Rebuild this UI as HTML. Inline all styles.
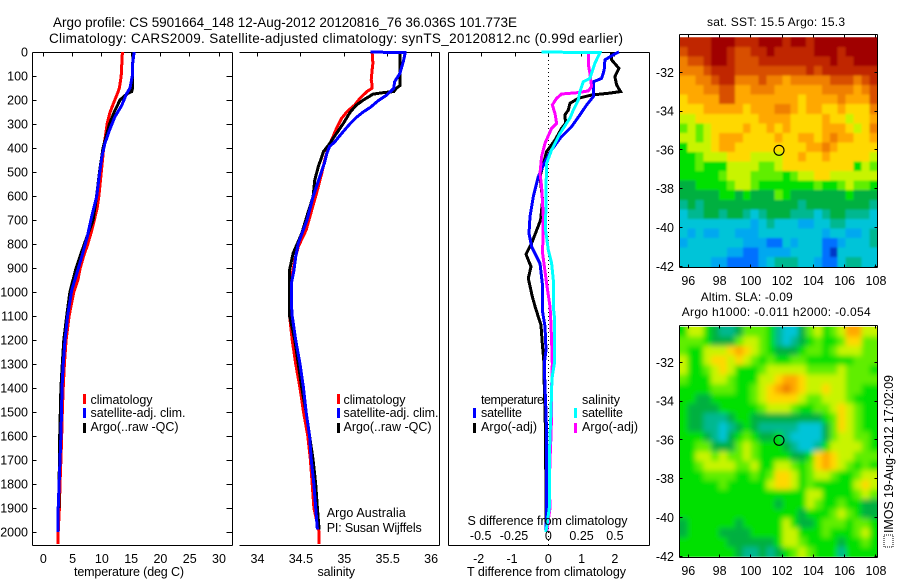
<!DOCTYPE html>
<html lang="en">
<head>
<meta charset="utf-8">
<title>Argo profile CS 5901664_148</title>
<style>
html,body{margin:0;padding:0;background:#fff;width:900px;height:580px;overflow:hidden}
svg{display:block;font-family:"Liberation Sans",sans-serif;font-size:12.5px;fill:#000}
.line{fill:none;stroke-width:3;stroke-linejoin:miter;shape-rendering:crispEdges}
.ax{stroke:#000;stroke-width:1;fill:none;shape-rendering:crispEdges}
</style>
</head>
<body>
<svg id="chart" width="900" height="580" viewBox="0 0 900 580" xmlns="http://www.w3.org/2000/svg">
  <defs>
    <filter id="blur-sst" filterUnits="userSpaceOnUse" x="640" y="0" width="260" height="300"><feGaussianBlur stdDeviation="1.1"/></filter>
    <filter id="blur-sla" filterUnits="userSpaceOnUse" x="640" y="290" width="260" height="290"><feGaussianBlur stdDeviation="2.6"/></filter>
    <clipPath id="clip-sst"><rect x="679" y="37.3" width="198.5" height="229.7"/></clipPath>
    <clipPath id="clip-sla"><rect x="679" y="326.7" width="198.5" height="230"/></clipPath>
  </defs>
  <text x="53" y="27" font-size="13.5" textLength="464" lengthAdjust="spacing">Argo profile: CS 5901664_148 12-Aug-2012 20120816_76 36.036S 101.773E</text>
  <text x="49" y="43" font-size="13.5" textLength="574" lengthAdjust="spacing">Climatology: CARS2009. Satellite-adjusted climatology: synTS_20120812.nc (0.99d earlier)</text>

  <g clip-path="url(#clip-sst)"><g id="map-sst" filter="url(#blur-sst)"></g></g>
  <g clip-path="url(#clip-sla)"><g id="map-sla" filter="url(#blur-sla)"></g></g>
  <g id="axes"></g>
  <g id="series"></g>
  <g id="labels"></g>

  <text x="74" y="576" textLength="110" lengthAdjust="spacing">temperature (deg C)</text>
  <text x="317.5" y="576" textLength="37.5" lengthAdjust="spacing">salinity</text>
  <text x="467" y="576" textLength="159" lengthAdjust="spacing">T difference from climatology</text>
  <text x="467.5" y="525" textLength="160" lengthAdjust="spacing">S difference from climatology</text>

  <g>
    <rect x="83" y="394" width="3" height="10" fill="#ff0000"/>
    <rect x="83" y="408" width="3" height="10" fill="#0000ff"/>
    <rect x="83" y="423" width="3" height="10" fill="#000000"/>
    <text x="90.5" y="404" textLength="62" lengthAdjust="spacing">climatology</text>
    <text x="90.5" y="417" textLength="95" lengthAdjust="spacing">satellite-adj. clim.</text>
    <text x="90.5" y="431" textLength="88" lengthAdjust="spacing">Argo(..raw -QC)</text>
  </g>
  <g>
    <rect x="337" y="394" width="3" height="10" fill="#ff0000"/>
    <rect x="337" y="408" width="3" height="10" fill="#0000ff"/>
    <rect x="337" y="423" width="3" height="10" fill="#000000"/>
    <text x="343.5" y="404" textLength="62" lengthAdjust="spacing">climatology</text>
    <text x="343.5" y="417" textLength="95" lengthAdjust="spacing">satellite-adj. clim.</text>
    <text x="343.5" y="431" textLength="88" lengthAdjust="spacing">Argo(..raw -QC)</text>
    <text x="326.7" y="517" textLength="79" lengthAdjust="spacing">Argo Australia</text>
    <text x="326.7" y="532" textLength="95" lengthAdjust="spacing">PI: Susan Wijffels</text>
  </g>
  <g>
    <text x="481" y="404" textLength="63" lengthAdjust="spacing">temperature</text>
    <text x="582" y="404" textLength="38" lengthAdjust="spacing">salinity</text>
    <rect x="473" y="408" width="3" height="10" fill="#0000ff"/>
    <rect x="473" y="423" width="3" height="10" fill="#000000"/>
    <rect x="574" y="408" width="3" height="10" fill="#00ffff"/>
    <rect x="574" y="423" width="3" height="10" fill="#ff00ff"/>
    <text x="481" y="417" textLength="41" lengthAdjust="spacing">satellite</text>
    <text x="481" y="431" textLength="56" lengthAdjust="spacing">Argo(-adj)</text>
    <text x="582" y="417" textLength="41" lengthAdjust="spacing">satellite</text>
    <text x="582" y="431" textLength="56" lengthAdjust="spacing">Argo(-adj)</text>
  </g>

  <text x="707" y="26" font-size="12" textLength="138" lengthAdjust="spacing">sat. SST: 15.5 Argo: 15.3</text>
  <text x="700.7" y="301" font-size="12" textLength="92" lengthAdjust="spacing">Altim. SLA: -0.09</text>
  <text x="681.7" y="316" font-size="12" textLength="189" lengthAdjust="spacing">Argo h1000: -0.011 h2000: -0.054</text>

  <rect x="884" y="535" width="9" height="12" fill="none" stroke="#000" stroke-width="1" stroke-dasharray="1 1" shape-rendering="crispEdges"/>
  <text transform="translate(893,533) rotate(-90)" textLength="158" lengthAdjust="spacing">IMOS 19-Aug-2012 17:02:09</text>
</svg>

<script>
// ---------- chart data ----------
const depthTicks = [0,100,200,300,400,500,600,700,800,900,1000,1100,1200,1300,1400,1500,1600,1700,1800,1900,2000];
const tempTicks = [0,5,10,15,20,25,30];
const salTicks = [34,34.5,35,35.5,36];
const salTickLabels = ['34','34.5','35','35.5','36'];
const tdiffTicks = [-2,-1,0,1,2];
const sdiffTicks = [-0.5,-0.25,0,0.25,0.5];
const sdiffTickLabels = ['-0.5','-0.25','0','0.25','0.5'];
const lonTicks = [96,98,100,102,104,106,108];
const latTicks = [-32,-34,-36,-38,-40,-42];

const tempClimDepth = [0,50,100,150,170,200,250,300,350,400,450,500,550,600,650,700,750,800,850,900,950,1000,1100,1200,1300,1400,1500,1600,1700,1800,1900,2000,2050];
const tempClim = [13.5,13.4,13.3,13,12.7,12.2,11.4,10.9,10.6,10.3,10.1,9.9,9.7,9.5,9.2,8.7,8.2,7.6,6.9,6.3,5.9,5.2,4.4,3.9,3.6,3.4,3.25,3.15,3,2.85,2.75,2.55,2.55];
const tempSatDepth = [0,50,100,150,174,222,271,319,382,437,507,604,687,771,854,924,993,1100,1200,1300,1400,1500,1600,1700,1800,1900,2000];
const tempSat = [15.5,15.25,15.2,14.8,14.2,13.4,12.2,11.4,10.5,10,9.6,9.1,8.25,7.5,6.55,5.7,4.85,4.15,3.7,3.4,3.2,3.1,3,2.85,2.7,2.55,2.55];
const tempArgoDepth = [0,50,100,150,165,172,180,200,250,300,400,500,600,700,800,900,1000,1100,1200,1300,1400,1500,1600,1700,1800,1900];
const tempArgo = [15.4,15.25,15.25,15.25,15.1,14.5,14,13.1,12.1,11.3,10.2,9.6,9.1,8.5,7,5.6,4.55,4,3.5,3.25,3,2.9,2.8,2.75,2.7,2.7];

const salClimDepth = [0,47,75,117,137,151,165,193,221,249,276,318,353,394,443,506,589,665,742,811,867,908,964,1061,1100,1200,1300,1400,1500,1600,1700,1800,1900,2000,2050];
const salClim = [35.32,35.33,35.32,35.31,35.32,35.32,35.26,35.18,35.12,35.03,34.97,34.91,34.87,34.82,34.78,34.74,34.68,34.62,34.56,34.47,34.43,34.41,34.37,34.37,34.37,34.4,34.44,34.49,34.53,34.58,34.61,34.63,34.65,34.71,34.71];
const salSatDepth = [0,3,5,40,89,124,151,179,203,231,249,272,297,339,374,394,422,464,506,603,700,797,853,908,964,1050,1100,1200,1300,1400,1500,1600,1700,1800,1900,1990];
const salSat = [35.3,35.7,35.7,35.68,35.64,35.58,35.57,35.49,35.39,35.3,35.22,35.14,35.07,34.97,34.89,34.83,34.8,34.77,34.73,34.64,34.57,34.47,34.44,34.42,34.39,34.39,34.4,34.44,34.49,34.53,34.56,34.6,34.62,34.65,34.67,34.69];
const salArgoDepth = [0,50,100,140,151,165,169,176,200,221,249,297,339,387,415,478,533,603,672,755,839,908,992,1050,1100,1200,1300,1400,1500,1600,1700,1800,1900,1990];
const salArgo = [35.64,35.64,35.64,35.64,35.6,35.57,35.45,35.33,35.22,35.14,35.07,34.99,34.91,34.82,34.76,34.7,34.66,34.64,34.58,34.51,34.41,34.37,34.37,34.37,34.37,34.43,34.47,34.51,34.56,34.6,34.64,34.67,34.69,34.71];

const dtSatDepth = [0,8,33,75,110,124,186,221,262,311,360,408,457,519,603,686,756,811,881,964,1075,1144,1242,1297,1400,1500,1600,1700,1800,1900,2000];
const dtSat = [2.12,2,1.7,1.68,1.6,1.35,1.35,1.15,0.95,0.7,0.35,0.1,-0.1,-0.3,-0.45,-0.55,-0.58,-0.5,-0.25,-0.18,-0.18,-0.1,-0.07,-0.12,-0.1,-0.07,-0.05,-0.05,-0.05,-0.05,-0.07];
const dtArgoDepth = [0,33,68,103,137,165,172,179,193,214,242,262,297,318,367,415,519,617,700,797,843,894,943,1019,1068,1138,1214,1297,1400,1500,1600,1700,1800,1900,1990];
const dtArgo = [1.9,1.9,2.12,2,2.05,2.17,1.8,1.3,0.9,0.65,0.6,0.5,0.52,0.4,0.2,-0.05,-0.25,-0.17,-0.23,-0.5,-0.67,-0.52,-0.6,-0.48,-0.38,-0.22,-0.18,-0.13,-0.12,-0.1,-0.08,-0.08,-0.07,-0.07,-0.07];
const dsSatDepth = [0,3,47,89,110,124,165,200,242,276,339,408,464,575,742,825,880,950,1061,1100,1200,1250,1300,1350,1400,1500,1600,1700,1800,1900,2000];
const dsSat = [-0.05,0.3875,0.35,0.325,0.3125,0.2625,0.2375,0.225,0.1875,0.1625,0.0875,0.025,-0.0125,-0.0175,-0.02,0,0.025,0.0375,0.0375,0.045,0.045,0.045,0.045,0.03,0.025,0.02,0.0125,0.0075,0.0075,0.0075,-0.0175];
const dsArgoDepth = [0,50,89,144,162,169,175,193,221,256,297,318,380,436,506,561,686,839,964,1061,1100,1200,1300,1400,1500,1600,1700,1800,1900,2000];
const dsArgo = [0.3,0.3,0.3125,0.325,0.3,0.225,0.1,0.0625,0.03,0.05,0.0625,0.025,-0.025,-0.05,-0.0625,-0.05,-0.0375,-0.0425,-0.0125,0.0125,0.0175,0.025,0.03,0.025,0.025,0.02,0.0125,0.0075,0.0125,-0.0125];

const sstLevels = [
[13,13,13,13,14,14,14,13,13,13,14,14,14,13,14,14,13,14,14,14,14,14,14,14,14],
[12,13,13,13,14,14,13,12,12,13,13,14,13,13,13,13,13,14,14,14,13,14,14,14,14],
[11,12,12,13,14,14,13,12,12,12,13,13,13,13,13,13,13,13,13,14,13,13,14,14,14],
[11,11,11,12,13,13,13,12,12,12,12,12,12,12,12,12,13,12,13,13,13,13,13,13,13],
[10,10,11,11,12,13,13,11,11,11,12,11,11,10,11,11,11,11,11,12,12,12,11,12,13],
[10,10,10,11,11,12,12,10,10,11,11,11,10,10,10,10,10,10,11,11,11,11,10,11,12],
[9,10,10,10,10,12,12,10,10,10,10,10,10,10,10,9,10,10,10,10,11,10,10,10,12],
[9,9,9,10,10,10,10,10,9,10,10,10,11,11,10,9,10,10,9,9,10,9,9,9,11],
[8,8,9,9,9,9,9,9,9,9,10,10,10,10,9,9,9,9,10,9,9,8,9,9,10],
[7,8,7,8,9,9,9,9,10,9,9,10,9,10,9,9,9,9,10,10,10,9,8,9,11],
[8,8,7,8,9,10,10,10,9,9,9,9,10,9,9,10,10,9,10,11,10,10,9,9,10],
[6,8,8,8,9,10,10,9,9,9,9,9,9,9,9,9,10,10,11,10,9,9,9,9,9],
[6,6,7,8,8,8,9,9,9,8,8,8,8,9,9,10,9,9,10,9,9,9,9,9,8],
[6,6,7,6,6,6,8,8,8,8,7,7,8,9,9,9,9,9,9,9,9,9,6,8,7],
[6,6,6,6,6,7,8,8,8,7,7,7,7,6,7,8,8,9,9,8,8,8,8,8,8],
[5,5,6,6,6,6,7,8,8,7,6,6,6,6,6,6,6,7,6,6,7,8,7,7,6],
[5,5,5,5,5,6,6,5,6,5,5,5,7,6,5,5,5,5,5,5,5,6,5,5,5],
[4,5,4,5,5,5,5,5,5,5,5,5,5,5,5,4,5,5,5,5,5,5,5,5,4],
[3,4,4,5,5,4,5,5,4,3,4,5,5,5,4,4,4,3,4,5,5,4,4,4,3],
[3,3,3,3,3,3,3,3,3,2,3,4,3,3,3,2,2,3,3,4,4,3,3,3,3],
[3,2,3,2,2,3,3,2,2,2,3,3,3,3,3,3,3,3,2,3,3,2,2,3,4],
[2,3,3,3,3,3,3,3,2,2,2,1,1,3,2,3,3,3,1,1,2,3,3,3,4],
[3,3,3,3,3,3,2,2,1,1,2,2,2,2,3,3,3,3,1,0,3,3,3,3,3],
[3,3,3,3,2,2,1,1,1,1,2,3,4,4,4,3,3,2,1,1,3,4,4,3,3]
];
const slaLevels = [
[6,8,8,6,5,4,4,5,7,7,7,6,4,3,3,5,7,8,6,7,8,10,10,8,8],
[7,7,7,6,5,5,5,7,8,8,7,6,4,3,4,5,6,7,6,6,7,9,9,7,7],
[7,6,6,8,8,8,9,10,9,8,7,6,5,5,5,6,7,7,6,7,8,8,8,7,7],
[8,6,6,8,9,9,8,9,8,7,6,7,6,6,7,7,6,6,6,6,6,6,7,7,7],
[8,6,6,7,8,9,8,6,6,6,7,8,8,8,8,8,7,7,7,7,8,7,7,7,6],
[7,6,6,6,8,8,7,6,6,6,8,8,9,10,10,9,8,8,8,8,8,7,7,7,7],
[6,6,6,6,7,7,7,6,6,7,8,9,10,11,10,9,8,8,9,8,8,7,7,6,6],
[6,6,5,5,6,6,6,6,6,7,8,9,9,9,9,8,7,7,8,8,8,7,6,6,6],
[6,5,5,5,5,6,6,6,6,6,7,8,8,8,7,6,6,7,7,8,9,8,7,6,6],
[6,5,5,4,4,4,5,6,6,5,5,5,5,5,5,5,5,5,6,7,9,8,7,6,6],
[6,5,5,4,4,3,4,5,6,5,4,4,4,4,4,3,3,3,5,7,9,8,7,6,6],
[6,6,6,5,4,3,5,6,7,6,5,5,6,4,3,3,3,3,5,7,8,8,7,7,6],
[6,6,7,7,5,5,5,7,8,7,6,6,6,5,4,3,3,4,6,8,8,8,8,7,6],
[6,6,8,8,7,8,7,7,8,7,6,6,6,6,5,5,6,9,10,9,8,8,7,7,7],
[6,6,7,8,8,8,8,7,7,8,6,6,8,8,7,6,7,9,10,9,8,7,6,7,6],
[6,6,6,7,7,7,7,6,6,7,6,7,9,9,8,6,7,8,8,7,6,6,7,8,8],
[6,6,6,6,6,7,6,6,6,6,6,8,9,9,8,6,7,6,6,6,6,6,8,9,8],
[6,6,6,6,6,6,6,6,6,6,6,6,6,6,6,6,8,8,6,6,6,6,7,8,7],
[6,6,6,6,6,6,6,6,6,6,6,6,5,6,6,6,8,7,6,6,7,6,6,5,5],
[6,6,6,6,6,6,6,6,6,6,6,6,6,6,6,5,6,6,6,7,8,7,6,5,5],
[5,6,6,6,6,6,6,5,6,6,6,6,6,8,6,5,5,6,7,7,7,6,7,7,6],
[5,6,6,6,6,5,5,5,5,6,6,6,6,8,8,6,6,6,7,6,6,6,7,8,6],
[6,6,6,6,6,6,5,5,5,5,5,5,6,8,8,7,6,6,6,6,5,6,6,7,6],
[6,6,6,6,6,6,6,5,4,4,5,4,5,6,7,8,7,6,6,6,4,6,6,6,6]
];
const levelColors = ['#0038c8','#0070ff','#00a8f0','#00c4d8','#00b890','#00b040','#00e000','#60ee00','#c8f400','#ffd800','#ffa800','#f08000','#d85000','#c02800','#a00000'];

// ---------- helpers ----------
const NS = 'http://www.w3.org/2000/svg';
const axesLayer = document.getElementById('axes');
const seriesLayer = document.getElementById('series');
const labelLayer = document.getElementById('labels');

const yDepth = d => 52 + 0.24 * d;
const xTemp = v => 43.3 + 5.857 * v;
const xSal = v => 344.3 + 86.8 * (v - 35);
const xTdiff = v => 548.3 + 33.3 * v;
const xSdiff = v => 548.3 + 133.2 * v;
const xLon = v => 688.3 + 15.64 * (v - 96);
const ySst = v => 72.3 + 19.4 * (-32 - v);
const ySla = v => 362.3 + 19.4 * (-32 - v);

function seg(x1, y1, x2, y2) {
  const l = document.createElementNS(NS, 'line');
  l.setAttribute('class', 'ax');
  l.setAttribute('x1', Math.floor(x1) + 0.5);
  l.setAttribute('y1', Math.floor(y1) + 0.5);
  l.setAttribute('x2', Math.floor(x2) + 0.5);
  l.setAttribute('y2', Math.floor(y2) + 0.5);
  return l;
}
function addSpine(x1, y1, x2, y2) {
  const l = seg(x1, y1, x2, y2);
  
  
  axesLayer.appendChild(l);
}
function addTick(x1, y1, x2, y2) {
  const l = seg(x1, y1, x2, y2);
  
  
  axesLayer.appendChild(l);
}
function addLabel(x, y, str, anchor) {
  const t = document.createElementNS(NS, 'text');
  
  
  t.setAttribute('x', x);
  t.setAttribute('y', y);
  t.setAttribute('text-anchor', anchor);
  t.textContent = str;
  labelLayer.appendChild(t);
}
function addProfile(depths, values, xFn, color, name) {
  const p = document.createElementNS(NS, 'polyline');
  
  
  p.setAttribute('class', 'line');
  p.setAttribute('stroke', color);
  p.setAttribute('points', values.map((v, i) => xFn(v).toFixed(1) + ',' + yDepth(depths[i]).toFixed(1)).join(' '));
  seriesLayer.appendChild(p);
}
function addMap(layerId, levels, yFn, top, name) {
  const layer = document.getElementById(layerId);
  const lonW = 95.44, lonE = 108.08, latS = -42.02;
  const latN = -32 + (yFn(-32) - top) / 19.4;
  const rows = levels.length;
  levels.forEach((row, r) => {
    const cols = row.length;
    row.forEach((v, c) => {
      // outermost cells run past the clip so the blur does not fade at the frame
      const x0 = xLon(lonW + (lonE - lonW) * c / cols) - (c === 0 ? 14 : 0);
      const x1 = xLon(lonW + (lonE - lonW) * (c + 1) / cols) + (c === cols - 1 ? 14 : 0);
      const y0 = yFn(latN + (latS - latN) * r / rows) - (r === 0 ? 14 : 0);
      const y1 = yFn(latN + (latS - latN) * (r + 1) / rows) + (r === rows - 1 ? 14 : 0);
      const cell = document.createElementNS(NS, 'rect');
      
      
      cell.setAttribute('x', x0.toFixed(2));
      cell.setAttribute('y', y0.toFixed(2));
      cell.setAttribute('width', (x1 - x0 + 0.3).toFixed(2));
      cell.setAttribute('height', (y1 - y0 + 0.3).toFixed(2));
      cell.setAttribute('fill', levelColors[Math.max(0, Math.min(levelColors.length - 1, v))]);
      cell.setAttribute('shape-rendering', 'crispEdges');
      layer.appendChild(cell);
    });
  });
}
function addMarker(lon, lat, yFn) {
  const c = document.createElementNS(NS, 'circle');
  
  
  c.setAttribute('cx', xLon(lon));
  c.setAttribute('cy', yFn(lat));
  c.setAttribute('r', 5);
  c.setAttribute('fill', 'none');
  c.setAttribute('stroke', '#000');
  c.setAttribute('stroke-width', 1.1);
  seriesLayer.appendChild(c);
}

// ---------- maps ----------
addMap('map-sst', sstLevels, ySst, 37.3, 'sst-cell');
addMap('map-sla', slaLevels, ySla, 326.7, 'sla-cell');

// ---------- profile panels: frames ----------
addSpine(32, 52, 232, 52); addSpine(32, 545, 232, 545); addSpine(32, 52, 32, 545); addSpine(232, 52, 232, 545);
addSpine(239, 52, 439, 52); addSpine(239, 545, 439, 545); addSpine(439, 52, 439, 545);
addSpine(448, 52, 649, 52); addSpine(448, 545, 649, 545); addSpine(448, 52, 448, 545); addSpine(649, 52, 649, 545);

// ---------- profile panels: ticks and labels ----------
depthTicks.forEach(d => {
  const y = yDepth(d);
  addTick(32, y, 36, y);
  addTick(226, y, 232, y);
  addLabel(28, y + 4.5, String(d), 'end');
});
tempTicks.forEach(v => {
  const x = xTemp(v);
  addTick(x, 52, x, 56);
  addLabel(x, 563, String(v), 'middle');
});
salTicks.forEach((v, i) => {
  const x = xSal(v);
  addTick(x, 52, x, 56);
  addLabel(x, 563, salTickLabels[i], 'middle');
});
tdiffTicks.forEach(v => {
  const x = xTdiff(v);
  addTick(x, 52, x, 56);
  addLabel(x - (v < 0 ? 3 : 0), 563, String(v), 'middle');
});
sdiffTicks.forEach((v, i) => {
  addLabel(xSdiff(v) - (v < 0 ? 1 : 0), 540, sdiffTickLabels[i], 'middle');
});

// dotted zero line
const zero = document.createElementNS(NS, 'line');


zero.setAttribute('x1', Math.floor(xTdiff(0)) + 0.5);
zero.setAttribute('x2', Math.floor(xTdiff(0)) + 0.5);
zero.setAttribute('y1', 52);
zero.setAttribute('y2', 545);
zero.setAttribute('stroke', '#000');
zero.setAttribute('stroke-width', 1);
zero.setAttribute('stroke-dasharray', '1 3');
zero.setAttribute('shape-rendering', 'crispEdges');
seriesLayer.appendChild(zero);

// ---------- profile series ----------
addProfile(tempClimDepth, tempClim, xTemp, '#ff0000', 'temperature-climatology-line');
addProfile(tempArgoDepth, tempArgo, xTemp, '#000000', 'temperature-argo-line');
addProfile(tempSatDepth, tempSat, xTemp, '#0000ff', 'temperature-satellite-line');

addProfile(salClimDepth, salClim, xSal, '#ff0000', 'salinity-climatology-line');
addProfile(salArgoDepth, salArgo, xSal, '#000000', 'salinity-argo-line');
addProfile(salSatDepth, salSat, xSal, '#0000ff', 'salinity-satellite-line');

addProfile(dtArgoDepth, dtArgo, xTdiff, '#000000', 't-difference-argo-line');
addProfile(dtSatDepth, dtSat, xTdiff, '#0000ff', 't-difference-satellite-line');
addProfile(dsArgoDepth, dsArgo, xSdiff, '#ff00ff', 's-difference-argo-line');
addProfile(dsSatDepth, dsSat, xSdiff, '#00ffff', 's-difference-satellite-line');

// ---------- map frames, ticks and labels ----------
[[34, 267, ySst, 285], [325, 557, ySla, 575]].forEach(m => {
  const top = m[0], bot = m[1], yFn = m[2], lonY = m[3];
  addSpine(679, top, 877, top); addSpine(679, bot, 877, bot);
  addSpine(679, top, 679, bot); addSpine(877, top, 877, bot);
  lonTicks.forEach(v => {
    const x = xLon(v);
    addTick(x, top, x, top + 3);
    addTick(x, bot - 3, x, bot);
    addLabel(x, lonY, String(v), 'middle');
  });
  latTicks.forEach(v => {
    const y = yFn(v);
    addTick(679, y, 682, y);
    addTick(874, y, 877, y);
    addLabel(674, y + 4.5, String(v), 'end');
  });
});
addMarker(101.8, -36.02, ySst);
addMarker(101.8, -36.02, ySla);
</script>
</body>
</html>
